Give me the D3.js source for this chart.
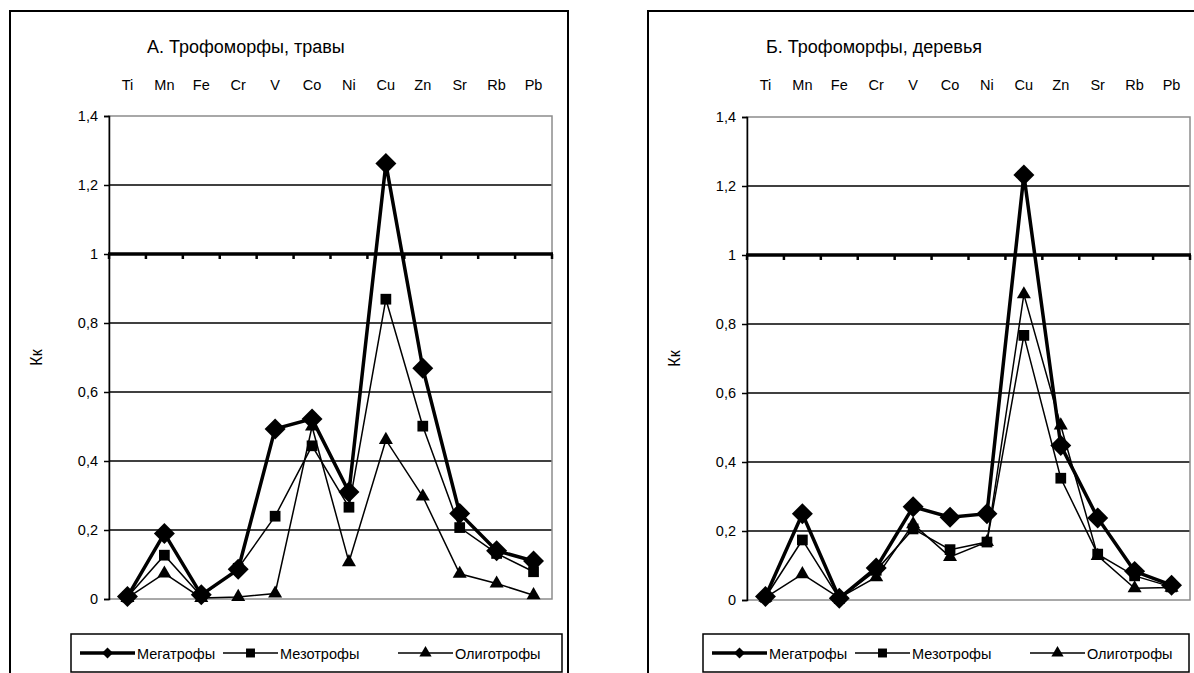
<!DOCTYPE html>
<html>
<head>
<meta charset="utf-8">
<script src="https://cdn.jsdelivr.net/npm/d3@7"></script>
<style>
  body { margin: 0; background: #fff; }
  svg { display: block; font-family: "Liberation Sans", Arial, sans-serif; }
</style>
</head>
<body>
<script>
// categories (elements) and values of Kk
const elements = ["Ti", "Mn", "Fe", "Cr", "V", "Co", "Ni", "Cu", "Zn", "Sr", "Rb", "Pb"];
const yTicks = [0, 0.2, 0.4, 0.6, 0.8, 1, 1.2, 1.4];
const seriesNames = ["Мегатрофы", "Мезотрофы", "Олиготрофы"];

// A. herbs
const herbMega  = [0.007, 0.19, 0.012, 0.086, 0.493, 0.522, 0.31, 1.262, 0.669, 0.248, 0.14, 0.11];
const herbMeso  = [0.006, 0.127, 0.008, 0.089, 0.24, 0.444, 0.266, 0.869, 0.501, 0.207, 0.132, 0.079];
const herbOligo = [0.003, 0.074, 0.003, 0.006, 0.016, 0.5, 0.107, 0.461, 0.297, 0.073, 0.045, 0.011];

// Б. trees
const treeMega  = [0.01, 0.25, 0.005, 0.093, 0.27, 0.24, 0.25, 1.232, 0.448, 0.238, 0.083, 0.043];
const treeMeso  = [0.008, 0.174, 0.004, 0.086, 0.206, 0.146, 0.168, 0.767, 0.353, 0.133, 0.07, 0.038];
const treeOligo = [0.007, 0.075, 0.006, 0.066, 0.22, 0.125, 0.168, 0.886, 0.506, 0.128, 0.034, 0.036];

const W = 1194, H = 673;

const svg = d3.select("body")
  .append("svg")
  .attr("width", W)
  .attr("height", H);

const fmt = v => String(+v.toFixed(1)).replace(".", ",");

// marker styles per series (plot marker + smaller legend marker)
const styles = [
  { width: 3.5, symbol: d3.symbol(d3.symbolSquare, 220), legend: d3.symbol(d3.symbolSquare, 60), rotate: 45 },
  { width: 1.5, symbol: d3.symbol(d3.symbolSquare, 115), legend: d3.symbol(d3.symbolSquare, 80), rotate: 0 },
  { width: 1.5, symbol: d3.symbol(d3.symbolTriangle, 85), legend: d3.symbol(d3.symbolTriangle, 65), rotate: 0 }
];

function drawPanel(p) {
  const g = svg.append("g");

  // outer frame
  g.append("rect")
    .attr("x", p.frameX).attr("y", 11)
    .attr("width", 558).attr("height", 700)
    .attr("fill", "none").attr("stroke", "#000").attr("stroke-width", 2);

  const x = d3.scaleBand().domain(elements).range([p.left, p.left + 443]);
  const y = d3.scaleLinear().domain([0, 1.4]).range([p.bottom, p.bottom - 483]);

  // title
  g.append("text")
    .attr("x", p.titleX).attr("y", 53)
    .attr("font-size", 18)
    .text(p.title);

  // gridlines
  g.selectAll(".grid")
    .data([0.2, 0.4, 0.6, 0.8, 1.2])
    .enter()
    .append("line")
    .attr("x1", p.left).attr("x2", p.left + 443)
    .attr("y1", d => y(d)).attr("y2", d => y(d))
    .attr("stroke", "#000").attr("stroke-width", 1.5);

  // plot area border (grey)
  g.append("rect")
    .attr("x", p.left).attr("y", y(1.4))
    .attr("width", 443).attr("height", y(0) - y(1.4))
    .attr("fill", "none").attr("stroke", "#8c8c8c").attr("stroke-width", 1.5);

  // y axis
  const yAxis = d3.axisLeft(y)
    .tickValues(yTicks)
    .tickFormat(fmt)
    .tickSize(5)
    .tickPadding(6);
  const ya = g.append("g")
    .attr("transform", `translate(${p.left},0)`)
    .call(yAxis);
  ya.attr("font-size", 14.5).attr("font-family", "Liberation Sans, Arial, sans-serif");
  ya.select(".domain").attr("stroke-width", 1.5);
  ya.selectAll(".tick line").attr("stroke-width", 1.5);
  ya.selectAll("text").attr("fill", "#000");

  // x axis crossing at 1, labels above the plot
  g.append("line")
    .attr("x1", p.left - 1).attr("x2", p.left + 444)
    .attr("y1", y(1)).attr("y2", y(1))
    .attr("stroke", "#000").attr("stroke-width", 3.5);
  const bounds = elements.map(d => x(d)).concat([p.left + 443]);
  g.selectAll(".xtick")
    .data(bounds)
    .enter()
    .append("line")
    .attr("x1", d => d).attr("x2", d => d)
    .attr("y1", y(1)).attr("y2", y(1) + 5)
    .attr("stroke", "#000").attr("stroke-width", 2.5);
  g.selectAll(".xlab")
    .data(elements)
    .enter()
    .append("text")
    .attr("x", d => x(d) + x.bandwidth() / 2)
    .attr("y", 90)
    .attr("text-anchor", "middle")
    .attr("font-size", 14.5)
    .text(d => d);

  // y title
  g.append("text")
    .attr("transform", `translate(${p.frameX + 32},${(y(0) + y(1.4)) / 2}) rotate(-90)`)
    .attr("text-anchor", "middle")
    .attr("font-size", 16)
    .text("Кк");

  const line = d3.line()
    .x((d, i) => x(elements[i]) + x.bandwidth() / 2)
    .y(d => y(d));

  // draw thin series first, mega on top
  [2, 1, 0].forEach(si => {
    const vals = p.series[si];
    const st = styles[si];
    g.append("path")
      .attr("d", line(vals))
      .attr("fill", "none").attr("stroke", "#000")
      .attr("stroke-width", st.width)
      .attr("stroke-linejoin", "miter");
    g.selectAll(".m" + si)
      .data(vals)
      .enter()
      .append("path")
      .attr("d", st.symbol)
      .attr("transform", (d, i) => `translate(${x(elements[i]) + x.bandwidth() / 2},${y(d)}) rotate(${st.rotate})`)
      .attr("fill", "#000");
  });

  // legend
  const lg = g.append("g").attr("transform", `translate(${p.legendX},634)`);
  lg.append("rect")
    .attr("width", p.legendW).attr("height", 38)
    .attr("fill", "#fff").attr("stroke", "#000").attr("stroke-width", 1.5);
  const offs = [9, 152, 327];
  seriesNames.forEach((name, si) => {
    const st = styles[si];
    const ox = offs[si];
    lg.append("line")
      .attr("x1", ox).attr("x2", ox + 55)
      .attr("y1", 19).attr("y2", 19)
      .attr("stroke", "#000").attr("stroke-width", st.width);
    lg.append("path")
      .attr("d", st.legend())
      .attr("transform", `translate(${ox + 27.5},19) rotate(${st.rotate})`)
      .attr("fill", "#000");
    lg.append("text")
      .attr("x", ox + 57).attr("y", 24.5)
      .attr("font-size", 14.5)
      .text(name);
  });
}

drawPanel({
  frameX: 10, left: 109, bottom: 599, titleX: 147,
  title: "А. Трофоморфы, травы",
  series: [herbMega, herbMeso, herbOligo],
  legendX: 71, legendW: 491
});

drawPanel({
  frameX: 648, left: 747, bottom: 600, titleX: 766,
  title: "Б. Трофоморфы, деревья",
  series: [treeMega, treeMeso, treeOligo],
  legendX: 703, legendW: 486
});
</script>
</body>
</html>
